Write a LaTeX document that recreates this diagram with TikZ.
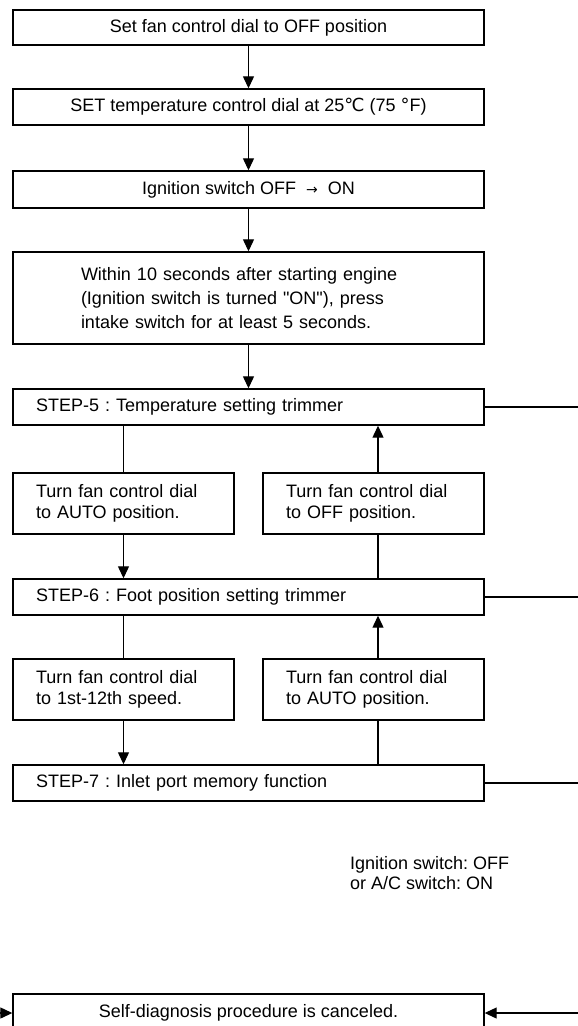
\documentclass[tikz,border=0pt]{standalone}
\usepackage{fontspec}
\setmainfont{Liberation Sans}[Ligatures=TeXOff]
\newfontfamily\symfont{DejaVu Sans}
\usetikzlibrary{arrows.meta}
\frenchspacing
\begin{document}
\begin{tikzpicture}[x=1pt,y=-1pt,
  box/.style={draw, line width=1.4pt, inner sep=0pt, font=\fontsize{18}{21}\selectfont},
  mainbox/.style={box, minimum width=471pt, minimum height=36pt, align=center},
  stepbox/.style={box, minimum height=36pt, text width=425pt, inner xsep=23pt, align=left},
  subbox/.style={box, minimum height=61pt, text width=175pt, inner xsep=23pt, align=left},
  line/.style={line width=1.2pt},
  arr/.style={line, -{Triangle[width=11pt,length=12pt]}},
  plain/.style={inner sep=0pt, font=\fontsize{18}{20}\selectfont, align=left}
]
\useasboundingbox (0,0) rectangle (578,1026);

\node[mainbox, minimum height=35pt] (b1) at (248.5,27.5) {Set fan control dial to OFF position};
\node[mainbox] (b2) at (248.5,107) {SET temperature control dial at 25{\symfont ℃} (75 {\symfont °}F)};
\node[mainbox, minimum height=37pt] (b3) at (248.5,189.5) {Ignition switch OFF \ {\symfont\fontsize{14}{14}\selectfont →} \ ON};
\node[box, minimum height=92pt, text width=335pt, inner xsep=68pt, align=left, font=\fontsize{18}{24}\selectfont] (b4) at (248.5,298)
  {Within 10 seconds after starting engine\\(Ignition switch is turned "ON"), press\\intake switch for at least 5 seconds.};
\node[stepbox] (s5) at (248.5,407) {STEP-5 : Temperature setting trimmer};
\node[subbox] (a1) at (123.5,503.5) {Turn fan control dial\\to AUTO position.};
\node[subbox] (c1) at (373.5,503.5) {Turn fan control dial\\to OFF position.};
\node[stepbox] (s6) at (248.5,597) {STEP-6 : Foot position setting trimmer};
\node[subbox] (a2) at (123.5,689.5) {Turn fan control dial\\to 1st-12th speed.};
\node[subbox] (c2) at (373.5,689.5) {Turn fan control dial\\to AUTO position.};
\node[stepbox] (s7) at (248.5,783) {STEP-7 : Inlet port memory function};
\node[plain, anchor=west] (lbl) at (350,873) {Ignition switch: OFF\\or A/C switch: ON};
\node[mainbox, minimum height=38pt] (b8) at (248.5,1013) {Self-diagnosis procedure is canceled.};

\draw[arr] (b1) -- (b2);
\draw[arr] (b2) -- (b3);
\draw[arr] (b3) -- (b4);
\draw[arr] (b4) -- (s5);

\draw[line] (s5.south -| a1.north) -- (a1.north);
\draw[arr] (a1.south) -- (a1.south |- s6.north);
\draw[line] ([xshift=4.5pt]c1.south |- s6.north) -- ([xshift=4.5pt]c1.south);
\draw[arr] ([xshift=4.5pt]c1.north) -- ([xshift=4.5pt]c1.north |- s5.south);

\draw[line] (s6.south -| a2.north) -- (a2.north);
\draw[arr] (a2.south) -- (a2.south |- s7.north);
\draw[line] ([xshift=4.5pt]c2.south |- s7.north) -- ([xshift=4.5pt]c2.south);
\draw[arr] ([xshift=4.5pt]c2.north) -- ([xshift=4.5pt]c2.north |- s6.south);

\coordinate (r5) at (578,407);
\coordinate (r6) at (578,597);
\coordinate (r7) at (578,783);
\coordinate (r8) at (578,1013);
\coordinate (l8) at (0,1013);
\draw[line] (s5.east) -- (r5);
\draw[line] (s6.east) -- (r6);
\draw[line] (s7.east) -- (r7);
\draw[arr] (r8) -- (b8.east);
\draw[arr] (l8) -- (b8.west);
\end{tikzpicture}
\end{document}
